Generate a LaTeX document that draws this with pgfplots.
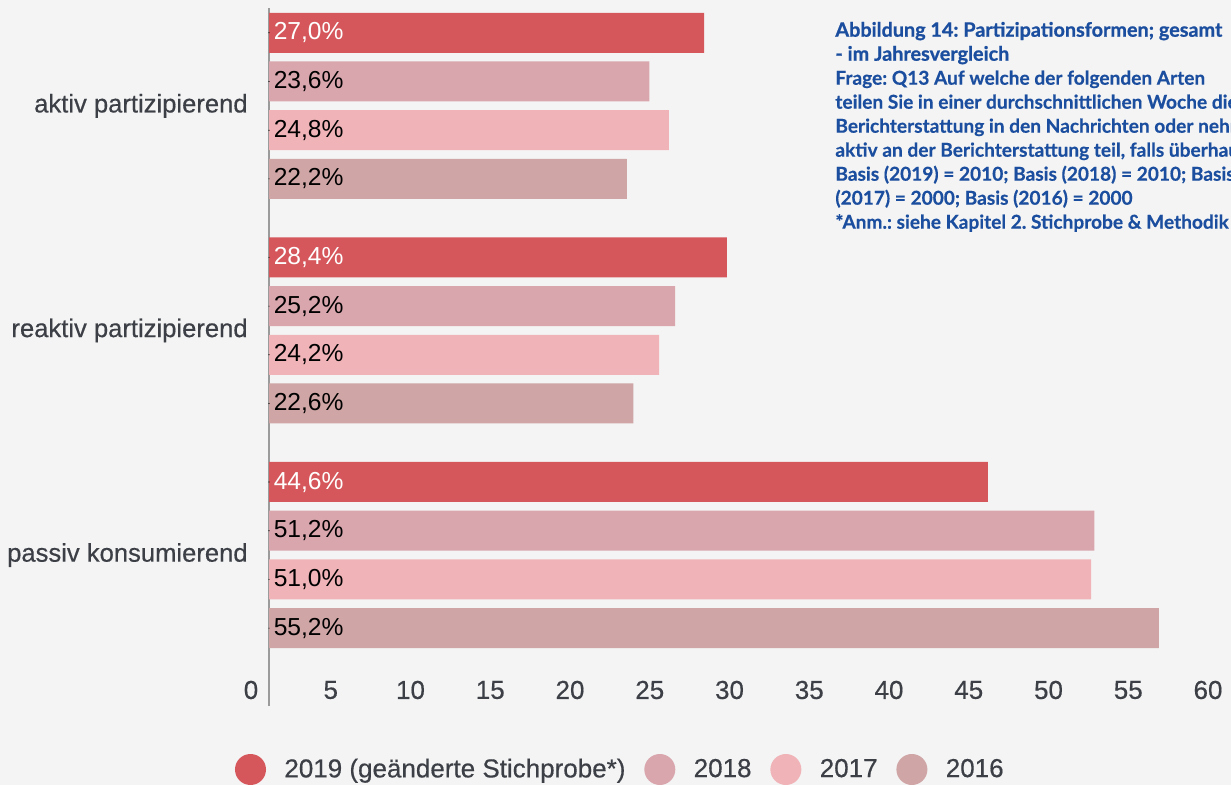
\documentclass[border=0pt]{standalone}
\usepackage{pgfplots}
\pgfplotsset{compat=1.18}
\usepackage{fontspec}
\setmainfont{Liberation Sans}
\newfontfamily\medfont{Liberation Sans}[FakeBold=0.5]
\newfontfamily\titlefont{Lato}[BoldFeatures={FakeBold=0.9}]
\newfontfamily\bodyfont{Lato}[BoldFeatures={FakeBold=0.4}]
\frenchspacing
\definecolor{c2019}{RGB}{213,87,91}
\definecolor{c2018}{RGB}{217,166,174}
\definecolor{c2017}{RGB}{240,180,184}
\definecolor{c2016}{RGB}{207,165,165}
\definecolor{bg}{RGB}{244,244,244}
\definecolor{txt}{RGB}{60,64,70}
\definecolor{axg}{RGB}{155,155,155}
\definecolor{tblue}{RGB}{27,78,158}
\pgfplotsset{
  mybar/.style={xbar, bar shift=0pt, bar width=20pt, draw=none},
  lgc/.style={legend image code/.code={\fill[#1] (0pt,0pt) circle (7.75pt);}},
  lbl/.style={only marks, mark=*, mark size=0.01pt, mark options={draw=none, fill=none}, forget plot,
    point meta=explicit,
    nodes near coords={\pgfmathprintnumber[assume math mode=true, use comma, fixed, fixed zerofill, precision=1]{\pgfplotspointmeta}\%},
    every node near coord/.style={anchor=west, inner sep=0pt, xshift=2.2pt, font=\fontsize{12.3}{14}\selectfont, text=#1}},
}
\begin{document}
\begin{tikzpicture}
\useasboundingbox[fill=bg] (0pt,0pt) rectangle (615.5pt,-392.5pt);
\begin{axis}[
  at={(124.83pt,-353pt)}, anchor=south west,
  scale only axis, width=493.25pt, height=349pt,
  xmin=-1.2, xmax=60, ymin=-706, ymax=-8,
  axis line style={draw=none},
  major tick length=0pt,
  clip=false,
  /pgf/number format/assume math mode=true,
  xtick={-1.117,3.830,8.778,13.725,18.673,23.62,28.568,33.515,38.463,43.41,48.358,53.305,58.253},
  xticklabels={0,5,10,15,20,25,30,35,40,45,50,55,60},
  xticklabel style={anchor=center, yshift=8pt, font=\medfont\fontsize{13}{15}\selectfont, text=txt},
  extra x ticks={0}, extra x tick labels={},
  extra x tick style={grid=major, major grid style={draw=axg, line width=0.7pt}},
  ytick={-105.85,-330.45,-555.05},
  yticklabels={aktiv partizipierend, reaktiv partizipierend, passiv konsumierend},
  yticklabel style={anchor=east, inner sep=0pt, xshift=-0.8pt, font=\medfont\fontsize{12.8}{15}\selectfont, text=txt},
  legend columns=4,
  legend style={at={(axis description cs:-0.01486,-0.09097)}, anchor=west, draw=none, fill=none,
    inner sep=0pt, outer sep=0pt, font=\medfont\fontsize{13}{15}\selectfont, text=txt,
    /tikz/every odd column/.append style={column sep=7.2pt},
    /tikz/every even column/.append style={column sep=7.4pt}},
]
\addplot[mybar, fill=c2019, lgc=c2019] coordinates {(27.0,-32.8) (28.4,-257.4) (44.6,-482.0)};
\addlegendentry{2019 (geänderte Stichprobe*)}
\addplot[mybar, fill=c2018, lgc=c2018] coordinates {(23.6,-81.5) (25.2,-306.1) (51.2,-530.7)};
\addlegendentry{2018}
\addplot[mybar, fill=c2017, lgc=c2017] coordinates {(24.8,-130.2) (24.2,-354.8) (51.0,-579.4)};
\addlegendentry{2017}
\addplot[mybar, fill=c2016, lgc=c2016] coordinates {(22.2,-178.9) (22.6,-403.5) (55.2,-628.1)};
\addlegendentry{2016}
\addplot[lbl=white] coordinates {(0,-32.8) [27.0] (0,-257.4) [28.4] (0,-482.0) [44.6]};
\addplot[lbl=black] coordinates {(0,-81.5) [23.6] (0,-306.1) [25.2] (0,-530.7) [51.2]};
\addplot[lbl=black] coordinates {(0,-130.2) [24.8] (0,-354.8) [24.2] (0,-579.4) [51.0]};
\addplot[lbl=black] coordinates {(0,-178.9) [22.2] (0,-403.5) [22.6] (0,-628.1) [55.2]};
\end{axis}
\begin{scope}[every node/.style={anchor=base west, inner sep=0pt, text=tblue}]
\node[font=\titlefont\bfseries\fontsize{9.9}{10}\selectfont] at (417.5pt,-18.35pt) {Abbildung 14: Partizipationsformen; gesamt};
\node[font=\titlefont\bfseries\fontsize{9.9}{10}\selectfont] at (417.5pt,-30.35pt) {- im Jahresvergleich};
\node[font=\bodyfont\bfseries\fontsize{9.55}{10}\selectfont] at (417.5pt,-42.35pt) {Frage: Q13 Auf welche der folgenden Arten};
\node[font=\bodyfont\bfseries\fontsize{9.55}{10}\selectfont] at (417.5pt,-54.35pt) {teilen Sie in einer durchschnittlichen Woche die};
\node[font=\bodyfont\bfseries\fontsize{9.55}{10}\selectfont] at (417.5pt,-66.35pt) {Berichterstattung in den Nachrichten oder nehmen};
\node[font=\bodyfont\bfseries\fontsize{9.55}{10}\selectfont] at (417.5pt,-78.35pt) {aktiv an der Berichterstattung teil, falls überhaupt?};
\node[font=\bodyfont\bfseries\fontsize{9.55}{10}\selectfont] at (417.5pt,-90.35pt) {Basis (2019) = 2010; Basis (2018) = 2010; Basis};
\node[font=\bodyfont\bfseries\fontsize{9.55}{10}\selectfont] at (417.5pt,-102.35pt) {(2017) = 2000; Basis (2016) = 2000};
\node[font=\bodyfont\bfseries\fontsize{9.55}{10}\selectfont] at (417.5pt,-114.35pt) {*Anm.: siehe Kapitel 2. Stichprobe \& Methodik};
\end{scope}
\end{tikzpicture}
\end{document}
